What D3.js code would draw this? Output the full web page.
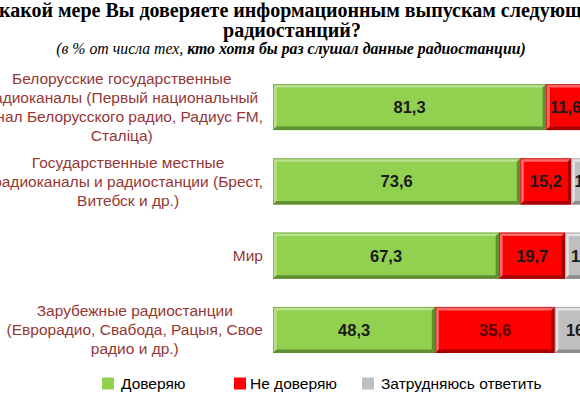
<!DOCTYPE html>
<html><head><meta charset="utf-8">
<script src="https://cdn.jsdelivr.net/npm/d3@7"></script>
<style>body{margin:0;background:#fff;overflow:hidden}svg{display:block}</style>
</head><body>
<svg id="chart" width="580" height="394"></svg>
<script>
const categories = [
  ["Белорусские государственные", "радиоканалы (Первый национальный", "канал Белорусского радио, Радиус FM,", "Сталіца)"],
  ["Государственные местные", "радиоканалы и радиостанции (Брест,", "Витебск и др.)"],
  ["Мир"],
  ["Зарубежные радиостанции", "(Еврорадио, Свабода, Рацыя, Свое", "радио и др.)"]
];
const trust = [81.3, 73.6, 67.3, 48.3];
const distrust = [11.6, 15.2, 19.7, 35.6];
const hard = [7.1, 11.2, 13.0, 16.1];
const seriesNames = ["Доверяю", "Не доверяю", "Затрудняюсь ответить"];
const titleLines = ["В какой мере Вы доверяете информационным выпускам следующих", "радиостанций?"];
const subtitleA = "(в % от числа тех, ";
const subtitleB = "кто хотя бы раз слушал данные радиостанции)";

const colors = ["#92D050", "#FF0000", "#BFBFBF"];
const light = ["#b9e28f", "#ff6a6a", "#e4e4e4"];
const dark = ["#5f8f30", "#a80000", "#8c8c8c"];

const svg = d3.select("#chart");
const ids = categories.map((c, i) => i);
const x = d3.scaleLinear().domain([0, 100]).range([273, 609]);
const y = d3.scaleBand().domain(ids).range([55.8, 381.2]).padding(0.38);

// title
svg.append("text").attr("x", 292).attr("y", 17)
  .attr("text-anchor", "middle").attr("font-family", "Liberation Serif, Times New Roman, serif")
  .attr("font-weight", "bold").attr("font-size", 20).attr("fill", "#000").text(titleLines[0]);
svg.append("text").attr("x", 292).attr("y", 37)
  .attr("text-anchor", "middle").attr("font-family", "Liberation Serif, Times New Roman, serif")
  .attr("font-weight", "bold").attr("font-size", 20).attr("fill", "#000").text(titleLines[1]);
const sub = svg.append("text").attr("x", 291).attr("y", 54)
  .attr("text-anchor", "middle").attr("font-family", "Liberation Serif, Times New Roman, serif")
  .attr("font-style", "italic").attr("font-size", 15.8).attr("fill", "#000");
sub.append("tspan").text(subtitleA);
sub.append("tspan").attr("font-weight", "bold").text(subtitleB);

// stacked data
const rows = ids.map(i => {
  const vals = [trust[i], distrust[i], hard[i]];
  let acc = 0;
  return vals.map((v, k) => { const s = acc; acc += v; return {i, k, v, x0: s, x1: acc}; });
});

const bev = 3.5;
rows.forEach(row => {
  row.forEach(d => {
    const g = svg.append("g");
    const x0 = x(d.x0), x1 = x(d.x1), y0 = y(d.i), y1 = y(d.i) + y.bandwidth();
    g.append("rect").attr("x", x0).attr("y", y0).attr("width", x1 - x0).attr("height", y1 - y0)
      .attr("fill", colors[d.k]);
    const poly = (pts, c) => g.append("polygon").attr("points", pts.map(p => p.join(",")).join(" ")).attr("fill", c);
    poly([[x0, y0], [x1, y0], [x1 - bev, y0 + bev], [x0 + bev, y0 + bev]], light[d.k]);
    poly([[x0, y0], [x0 + bev, y0 + bev], [x0 + bev, y1 - bev], [x0, y1]], light[d.k]);
    poly([[x0, y1], [x0 + bev, y1 - bev], [x1 - bev, y1 - bev], [x1, y1]], dark[d.k]);
    poly([[x1, y0], [x1, y1], [x1 - bev, y1 - bev], [x1 - bev, y0 + bev]], dark[d.k]);
    g.append("rect").attr("x", x0 + 0.5).attr("y", y0 + 0.5).attr("width", x1 - x0 - 1).attr("height", y1 - y0 - 1)
      .attr("fill", "none").attr("stroke", dark[d.k]).attr("stroke-width", 1).attr("opacity", 0.6);
    svg.append("text").attr("x", (x0 + x1) / 2).attr("y", y0 + y.bandwidth() / 2 + 6)
      .attr("text-anchor", "middle").attr("font-family", "Liberation Sans, Arial, sans-serif")
      .attr("font-weight", "bold").attr("font-size", 16.5).attr("fill", d.k === 1 && d.v > 30 ? "#5a0000" : "#1a1a1a")
      .text(d3.format(".1f")(d.v).replace(".", ","));
  });
});

// category labels
const lh = 19;
categories.forEach((lines, i) => {
  const cy = y(i) + y.bandwidth() / 2;
  const g = svg.append("g");
  const texts = lines.map((ln, j) => g.append("text")
    .attr("y", cy + (j - (lines.length - 1) / 2) * lh + 5.5)
    .attr("text-anchor", "middle").attr("font-family", "Liberation Sans, Arial, sans-serif")
    .attr("font-size", 15.5).attr("fill", "#953735").text(ln));
  const w = d3.max(texts, t => t.node().getComputedTextLength());
  texts.forEach(t => t.attr("x", 263 - w / 2));
});

// legend
const legX = [102, 234, 362];
seriesNames.forEach((n, k) => {
  svg.append("rect").attr("x", legX[k]).attr("y", 377.5).attr("width", 12).attr("height", 12).attr("fill", colors[k]);
  svg.append("text").attr("x", legX[k] + (k === 1 ? 16 : 19)).attr("y", 389)
    .attr("font-family", "Liberation Sans, Arial, sans-serif").attr("font-size", 15.5).attr("fill", "#000").text(n);
});
</script>
</body></html>
